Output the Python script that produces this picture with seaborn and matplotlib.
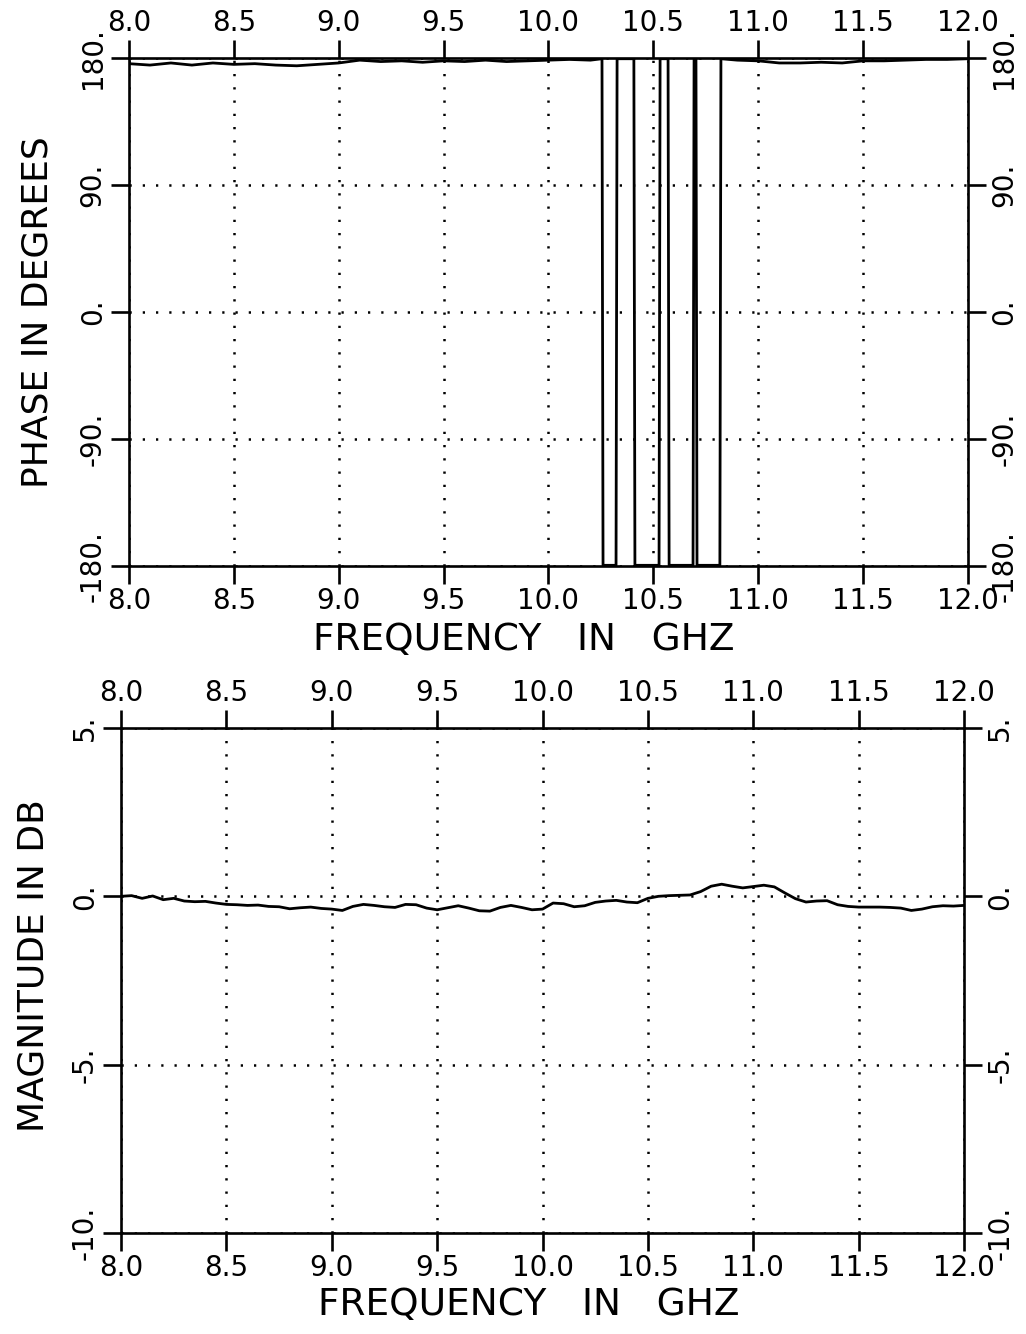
import numpy as np
import pandas as pd
import matplotlib
matplotlib.use("Agg")
import matplotlib.pyplot as plt
import seaborn as sns

# ---- phase trace (degrees); the sign flips where the response wraps at +/-180
phase_freq = [8.00, 8.10, 8.20, 8.30, 8.40, 8.50, 8.60, 8.70, 8.80, 8.90,
              9.00, 9.10, 9.20, 9.30, 9.40, 9.50, 9.60, 9.70, 9.80, 9.90,
              10.00, 10.10, 10.20, 10.255,
              10.260, 10.322,
              10.327, 10.407,
              10.412, 10.527,
              10.532, 10.570,
              10.575, 10.689,
              10.694, 10.703,
              10.708, 10.817,
              10.822, 10.90, 11.00, 11.10, 11.20, 11.30, 11.40, 11.50,
              11.60, 11.70, 11.80, 11.90, 12.00]
phase_deg = [176.0, 175.0, 176.5, 175.0, 176.5, 175.5, 176.0, 175.0, 174.5, 175.5,
             176.5, 178.5, 177.5, 178.0, 177.0, 178.0, 177.5, 178.5, 177.5, 178.0,
             178.5, 179.0, 178.5, 179.5,
             -179.5, -179.5,
             179.5, 179.5,
             -179.5, -179.5,
             179.5, 179.5,
             -179.5, -179.5,
             179.5, 179.5,
             -179.5, -179.5,
             179.5, 178.5, 178.0, 176.5, 176.5, 177.0, 176.5, 178.0,
             178.0, 178.5, 179.0, 179.0, 179.5]

# ---- magnitude trace (dB)
mag_freq = [round(8.0 + 0.05 * i, 2) for i in range(81)]
mag_db = [0.00, 0.02, -0.06, 0.01, -0.10, -0.06, -0.14, -0.16, -0.15, -0.20,
          -0.24, -0.25, -0.27, -0.26, -0.30, -0.31, -0.37, -0.34, -0.32, -0.36,
          -0.38, -0.42, -0.30, -0.24, -0.27, -0.31, -0.33, -0.24, -0.25, -0.35,
          -0.40, -0.34, -0.28, -0.35, -0.43, -0.44, -0.33, -0.27, -0.33, -0.40,
          -0.38, -0.20, -0.22, -0.31, -0.28, -0.18, -0.14, -0.12, -0.17, -0.19,
          -0.06, 0.00, 0.02, 0.03, 0.04, 0.14, 0.30, 0.36, 0.30, 0.25,
          0.29, 0.33, 0.28, 0.10, -0.07, -0.17, -0.14, -0.13, -0.25, -0.30,
          -0.32, -0.32, -0.32, -0.33, -0.35, -0.42, -0.38, -0.31, -0.28, -0.29,
          -0.27]

freq_ticks = [8.0, 8.5, 9.0, 9.5, 10.0, 10.5, 11.0, 11.5, 12.0]
freq_tick_labels = ["8.0", "8.5", "9.0", "9.5", "10.0", "10.5", "11.0", "11.5", "12.0"]
phase_ticks = [-180, -90, 0, 90, 180]
phase_tick_labels = ["-180.", "-90.", "0.", "90.", "180."]
mag_ticks = [-10, -5, 0, 5]
mag_tick_labels = ["-10.", "-5.", "0.", "5."]

sns.set_style("white")
plt.rcParams["font.family"] = ["DejaVu Sans"]
plt.rcParams["text.color"] = "black"
plt.rcParams["xtick.color"] = "black"
plt.rcParams["ytick.color"] = "black"
plt.rcParams["xtick.labelcolor"] = "black"
plt.rcParams["ytick.labelcolor"] = "black"

fig = plt.figure(figsize=(10.26, 13.34), dpi=100)
ax1 = fig.add_axes([0.1257, 0.5757, 0.8178, 0.3808])
ax2 = fig.add_axes([0.1180, 0.0757, 0.8216, 0.3786])

phase_df = pd.DataFrame({"freq": phase_freq, "phase": phase_deg})
mag_df = pd.DataFrame({"freq": mag_freq, "mag": mag_db})

sns.lineplot(data=phase_df, x="freq", y="phase", ax=ax1, color="black",
             linewidth=2.0, sort=False, estimator=None)
sns.lineplot(data=mag_df, x="freq", y="mag", ax=ax2, color="black",
             linewidth=2.0, sort=False, estimator=None)


def style_axes(ax, yticks, ylabels, ylim):
    ax.set_xlim(8.0, 12.0)
    ax.set_ylim(*ylim)
    ax.set_xticks(freq_ticks)
    ax.set_xticklabels(freq_tick_labels)
    ax.set_yticks(yticks)
    ax.set_yticklabels(ylabels)
    ax.set_xlabel("")
    ax.set_ylabel("")
    for sp in ax.spines.values():
        sp.set_visible(True)
        sp.set_color("black")
        sp.set_linewidth(1.9)
    ax.grid(True, color="black", linestyle=(0, (0.9, 4.4)), linewidth=1.8)
    ax.tick_params(axis="both", which="major", direction="out", length=13,
                   width=1.9, color="black", labelcolor="black", labelsize=20,
                   top=True, labeltop=True, right=True, labelright=True,
                   bottom=True, left=True)
    ax.tick_params(axis="x", pad=2)
    ax.tick_params(axis="y", labelrotation=90, pad=3)
    for t in ax.yaxis.get_major_ticks():
        t.label1.set_horizontalalignment("right")
        t.label2.set_horizontalalignment("left")
        t.label1.set_verticalalignment("center")
        t.label2.set_verticalalignment("center")


style_axes(ax1, phase_ticks, phase_tick_labels, (-180, 180))
style_axes(ax2, mag_ticks, mag_tick_labels, (-10, 5))

label_kw = dict(fontsize=27, color="black")
fig.text(0.510, 0.5202, "FREQUENCY   IN   GHZ", ha="center", va="center", **label_kw)
fig.text(0.515, 0.0220, "FREQUENCY   IN   GHZ", ha="center", va="center", **label_kw)
fig.text(0.037, 0.766, "PHASE IN DEGREES", ha="center", va="center",
         rotation=90, fontsize=26, color="black")
fig.text(0.033, 0.276, "MAGNITUDE IN DB", ha="center", va="center",
         rotation=90, fontsize=26, color="black")

fig.savefig("out.png", dpi=100, facecolor="white")
